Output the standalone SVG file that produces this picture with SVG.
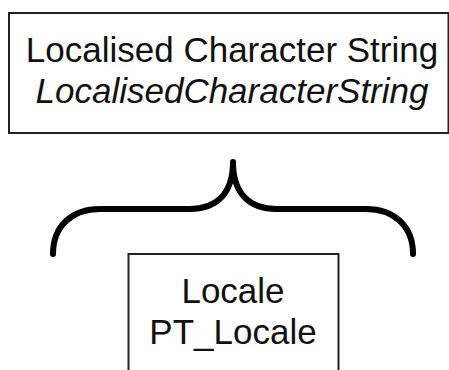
<svg xmlns="http://www.w3.org/2000/svg" width="449" height="370" viewBox="0 0 449 370">
<style>
.box{fill:#fff;stroke:#222;stroke-width:2}
.t{font-family:"Liberation Sans",Arial,sans-serif;font-size:35px;fill:#111;text-anchor:middle}
.i{font-style:italic}
.brace{fill:none;stroke:#000;stroke-width:6;stroke-linecap:round;stroke-linejoin:round}
</style>
<rect width="449" height="370" fill="#fff"/>
<g id="connectors">
<path class="brace" d="M53,254 C53,226 72,209 100,209 L190,209 C215,209 233,195 233,162 C233,195 251,209 276,209 L366,209 C394,209 413,226 413,254"/>
</g>
<g id="localisedCharacterString">
<rect class="box" x="9" y="13" width="439.5" height="120"/>
<text class="t" x="232" y="62">Localised Character String</text>
<text class="t i" x="232" y="103">LocalisedCharacterString</text>
</g>
<g id="locale">
<rect class="box" x="128.5" y="254" width="210" height="130"/>
<text class="t" x="233" y="303">Locale</text>
<text class="t" x="233" y="344">PT_Locale</text>
</g>
</svg>
